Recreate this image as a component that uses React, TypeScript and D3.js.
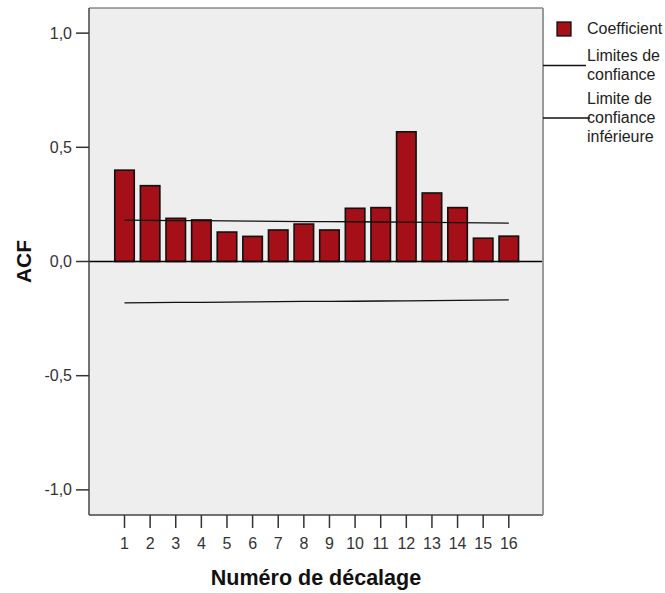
import React from "react";
import * as d3 from "d3";

const lags = [1, 2, 3, 4, 5, 6, 7, 8, 9, 10, 11, 12, 13, 14, 15, 16];
const coefficients = [0.40, 0.332, 0.189, 0.182, 0.129, 0.110, 0.138, 0.164, 0.138, 0.233, 0.236, 0.568, 0.300, 0.236, 0.102, 0.111];
const upperLimits = [0.181, 0.180, 0.179, 0.179, 0.178, 0.177, 0.176, 0.175, 0.175, 0.174, 0.173, 0.172, 0.171, 0.170, 0.169, 0.168];
const lowerLimits = [-0.181, -0.180, -0.179, -0.179, -0.178, -0.177, -0.176, -0.175, -0.175, -0.174, -0.173, -0.172, -0.171, -0.170, -0.169, -0.168];
const yTicks = [-1.0, -0.5, 0.0, 0.5, 1.0];
const legendCoef = "Coefficient";
const legendUpper = ["Limites de", "confiance"];
const legendLower = ["Limite de", "confiance", "inférieure"];
const xTitle = "Numéro de décalage";
const yTitle = "ACF";

export default function App() {
  const W = 665, H = 593;
  const left = 89, right = 543, top = 8, bottom = 515;
  const x = d3.scaleLinear().domain([1, 16]).range([124.5, 508.8]);
  const y = d3.scaleLinear().domain([-1.11, 1.11]).range([bottom, top]);
  const barW = 19.5;
  const font = "Arial, 'Liberation Sans', sans-serif";
  const fmt = (v: number) => d3.format(".1f")(v).replace(".", ",").replace("−", "-");
  const upperLine = d3.line<number>().x((_, i) => x(lags[i])).y((d) => y(d))(upperLimits) || "";
  const lowerLine = d3.line<number>().x((_, i) => x(lags[i])).y((d) => y(d))(lowerLimits) || "";
  return (
    <svg width={W} height={H} style={{ position: "absolute", left: 0, top: 0, background: "#fff" }} fontFamily={font}>
      <rect x={left} y={top} width={right - left} height={bottom - top} fill="#eeeeee" />
      {coefficients.map((c, i) => (
        <rect key={i} x={x(lags[i]) - barW / 2} y={y(Math.max(0, c))} width={barW} height={Math.abs(y(c) - y(0))}
          fill="#a50f17" stroke="#111" strokeWidth={1.6} />
      ))}
      <line x1={left} x2={right} y1={y(0)} y2={y(0)} stroke="#000" strokeWidth={1.3} />
      <path d={upperLine} fill="none" stroke="#111" strokeWidth={1.3} />
      <path d={lowerLine} fill="none" stroke="#111" strokeWidth={1.3} />
      {/* frame */}
      <line x1={left} x2={right} y1={top} y2={top} stroke="#555" strokeWidth={1.2} />
      <line x1={left} x2={left} y1={top} y2={bottom} stroke="#444" strokeWidth={1.5} />
      <line x1={left} x2={right} y1={bottom} y2={bottom} stroke="#444" strokeWidth={1.5} />
      <line x1={right} x2={right} y1={top} y2={bottom} stroke="#999" strokeWidth={2} />
      {/* y axis */}
      {yTicks.map((t) => (
        <g key={t}>
          <line x1={76} x2={left} y1={y(t)} y2={y(t)} stroke="#333" strokeWidth={1.5} />
          <text x={72} y={y(t)} dy="0.35em" textAnchor="end" fontSize={16} fill="#333">{fmt(t)}</text>
        </g>
      ))}
      {/* x axis */}
      {lags.map((l) => (
        <g key={l}>
          <line x1={x(l)} x2={x(l)} y1={bottom} y2={528} stroke="#333" strokeWidth={1.5} />
          <text x={x(l)} y={549} textAnchor="middle" fontSize={16} fill="#333">{l}</text>
        </g>
      ))}
      <text x={(left + right) / 2} y={585} textAnchor="middle" fontSize={21.5} fontWeight="bold" fill="#111">{xTitle}</text>
      <text transform={`translate(31,${(top + bottom) / 2}) rotate(-90)`} textAnchor="middle" fontSize={21} fontWeight="bold" fill="#111">{yTitle}</text>
      {/* legend */}
      <rect x={557} y={22} width={14} height={14} fill="#a50f17" stroke="#111" strokeWidth={1.3} />
      <text x={587} y={34} fontSize={16} fill="#222">{legendCoef}</text>
      <line x1={right} x2={586} y1={65.5} y2={65.5} stroke="#111" strokeWidth={1.3} />
      {legendUpper.map((s, i) => (
        <text key={s} x={587} y={61 + i * 19} fontSize={16} fill="#222">{s}</text>
      ))}
      <line x1={right} x2={590} y1={118} y2={118} stroke="#111" strokeWidth={1.3} />
      {legendLower.map((s, i) => (
        <text key={s + i} x={587} y={104 + i * 19} fontSize={16} fill="#222">{s}</text>
      ))}
    </svg>
  );
}
